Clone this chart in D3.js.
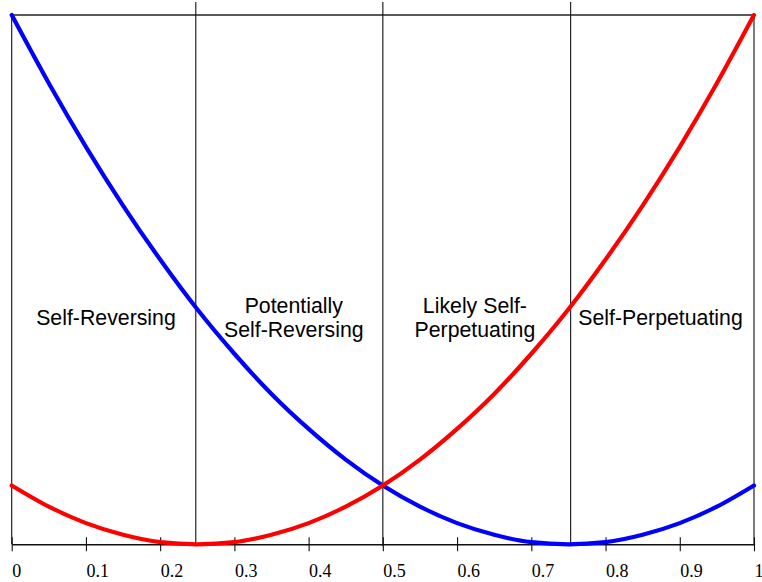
<!DOCTYPE html>
<html>
<head>
<meta charset="utf-8">
<script src="https://cdn.jsdelivr.net/npm/d3@7"></script>
<style>
  html, body { margin: 0; padding: 0; background: #fff; }
  svg { display: block; }
</style>
</head>
<body>
<svg id="chart" width="762" height="582"></svg>
<script>
// ---- data ----
const xValues   = [0, 0.05, 0.1, 0.15, 0.2, 0.25, 0.3, 0.35, 0.4, 0.45, 0.5,
                   0.55, 0.6, 0.65, 0.7, 0.75, 0.8, 0.85, 0.9, 0.95, 1];
const blueValues = [1.000, 0.871, 0.751, 0.640, 0.538, 0.444, 0.360, 0.284, 0.218, 0.160, 0.111,
                    0.071, 0.040, 0.018, 0.004, 0.000, 0.004, 0.018, 0.040, 0.071, 0.111];
const redValues  = [0.111, 0.071, 0.040, 0.018, 0.004, 0.000, 0.004, 0.018, 0.040, 0.071, 0.111,
                    0.160, 0.218, 0.284, 0.360, 0.444, 0.538, 0.640, 0.751, 0.871, 1.000];
const dividers   = [0.248, 0.5, 0.753];
const tickValues = [0, 0.1, 0.2, 0.3, 0.4, 0.5, 0.6, 0.7, 0.8, 0.9, 1];
const tickLabels = ["0", "0.1", "0.2", "0.3", "0.4", "0.5", "0.6", "0.7", "0.8", "0.9", "1"];
const regionLabels = [
  { x: 0.127, lines: ["Self-Reversing"] },
  { x: 0.380, lines: ["Potentially", "Self-Reversing"] },
  { x: 0.624, lines: ["Likely Self-", "Perpetuating"] },
  { x: 0.874, lines: ["Self-Perpetuating"] }
];

// ---- layout ----
const svg = d3.select("#chart");
const x = d3.scaleLinear().domain([0, 1]).range([11.7, 754]);
const y = d3.scaleLinear().domain([0, 1]).range([544.3, 15]);

// frame: top, left, right
svg.append("line").attr("x1", x(0)).attr("x2", x(1)).attr("y1", y(1)).attr("y2", y(1))
  .attr("stroke", "#222").attr("stroke-width", 1.4);
svg.append("line").attr("x1", x(0)).attr("x2", x(0)).attr("y1", y(1)).attr("y2", y(0))
  .attr("stroke", "#222").attr("stroke-width", 1.2);
svg.append("line").attr("x1", x(1)).attr("x2", x(1)).attr("y1", y(1)).attr("y2", y(0))
  .attr("stroke", "#222").attr("stroke-width", 1.2);

// dividers
svg.selectAll("line.div").data(dividers).enter().append("line")
  .attr("class", "div")
  .attr("x1", d => x(d)).attr("x2", d => x(d))
  .attr("y1", 2).attr("y2", y(0) + 2)
  .attr("stroke", "#111").attr("stroke-width", 1.1);

// x axis
const axis = d3.axisBottom(x).tickValues(tickValues)
  .tickFormat((d, i) => tickLabels[i]).tickSize(7).tickSizeOuter(0);
const gx = svg.append("g").attr("transform", `translate(0,${y(0)})`).call(axis);
gx.select(".domain").attr("stroke", "#111").attr("stroke-width", 1.4);
gx.selectAll(".tick line").attr("y1", -7).attr("stroke", "#111").attr("stroke-width", 1.1);
gx.selectAll(".tick text")
  .attr("text-anchor", "start")
  .attr("dy", null)
  .attr("y", 0)
  .attr("transform", "translate(0,32.3) scale(1,1.09)")
  .attr("fill", "#000")
  .style("font-family", "'Liberation Serif', 'Times New Roman', serif")
  .style("font-size", "18px");

// curves
const line = d3.line().x((d, i) => x(xValues[i])).y(d => y(d)).curve(d3.curveMonotoneX);
svg.append("path").datum(blueValues).attr("d", line)
  .attr("fill", "none").attr("stroke", "#0000ff").attr("stroke-width", 4.2)
  .attr("stroke-linecap", "round");
svg.append("path").datum(redValues).attr("d", line)
  .attr("fill", "none").attr("stroke", "#ff0000").attr("stroke-width", 4.2)
  .attr("stroke-linecap", "round");

// region labels
const lineH = 23.4;
regionLabels.forEach(r => {
  const n = r.lines.length;
  const base = n === 1 ? 324.5 : 313.3;
  r.lines.forEach((s, k) => {
    svg.append("text")
      .attr("text-anchor", "middle")
      .attr("fill", "#000")
      .attr("transform", `translate(${x(r.x)},${base + k * lineH}) scale(1,1.06)`)
      .style("font-family", "'Liberation Sans', Arial, sans-serif")
      .style("font-size", "21.3px")
      .text(s);
  });
});
</script>
</body>
</html>
